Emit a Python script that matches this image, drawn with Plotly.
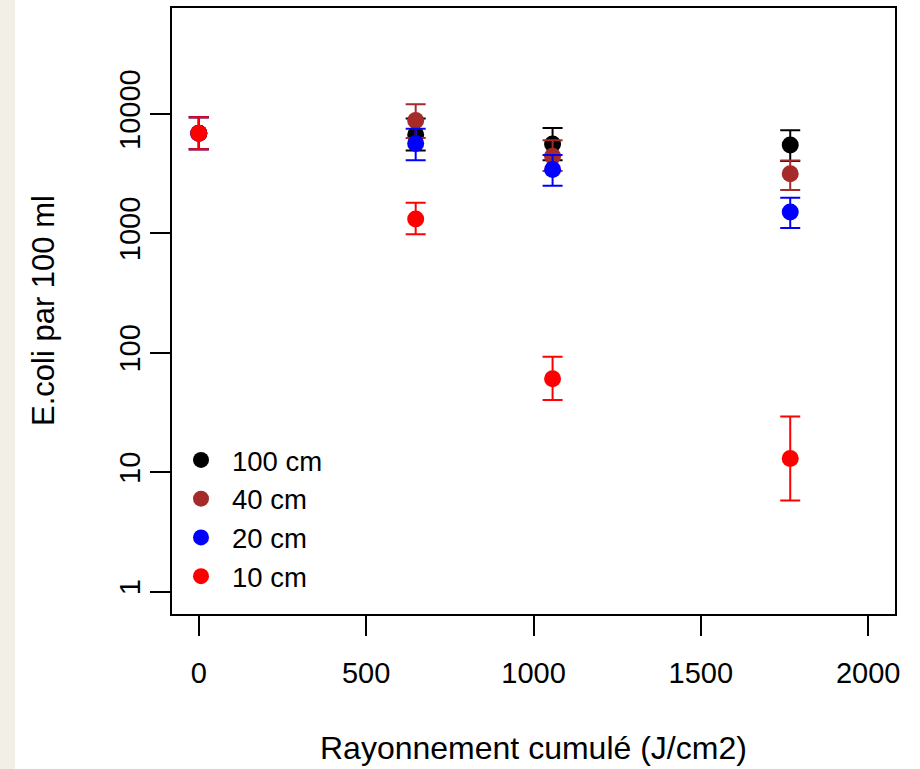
import plotly.graph_objects as go

# Cumulative radiation (J/cm2)
x_vals = [0, 648, 1057, 1767]

series_names = ["100 cm", "40 cm", "20 cm", "10 cm"]
series_colors = ["#000000", "#A52A2A", "#0000FF", "#FF0000"]

# E.coli per 100 ml: mean, upper and lower error bounds
mean_100 = [6900, 6700, 5600, 5480]
upper_100 = [9380, 9150, 7640, 7310]
lower_100 = [5070, 4950, 4100, 4030]

mean_40 = [6900, 8810, 4430, 3155]
upper_40 = [9380, 12050, 6030, 4080]
lower_40 = [5070, 6300, 3320, 2306]

mean_20 = [6900, 5660, 3430, 1510]
upper_20 = [9380, 7500, 4520, 1990]
lower_20 = [5070, 4100, 2500, 1110]

mean_10 = [6900, 1320, 60.5, 13.0]
upper_10 = [9380, 1806, 92.4, 29.3]
lower_10 = [5070, 984, 40.1, 5.8]

y_tick_vals = [1, 10, 100, 1000, 10000]
y_tick_text = ["1", "10", "100", "1000", "10000"]
x_tick_vals = [0, 500, 1000, 1500, 2000]

means = [mean_100, mean_40, mean_20, mean_10]
uppers = [upper_100, upper_40, upper_20, upper_10]
lowers = [lower_100, lower_40, lower_20, lower_10]

FONT = "Liberation Sans, Arial, Helvetica, sans-serif"

fig = go.Figure()
for name, col, m, u, l in zip(series_names, series_colors, means, uppers, lowers):
    fig.add_trace(go.Scatter(
        x=x_vals, y=m, mode="markers", name=name,
        marker=dict(color=col, size=17, line=dict(width=0)),
        error_y=dict(type="data", symmetric=False,
                     array=[a - b for a, b in zip(u, m)],
                     arrayminus=[b - c for b, c in zip(m, l)],
                     color=col, thickness=2, width=10),
    ))

L, R, T, B = 172, 25, 6, 155
W, H = 920, 769
pw = W - L - R
ph = H - T - B

fig.update_layout(
    width=W, height=H,
    margin=dict(l=L, r=R, t=T, b=B, pad=0),
    paper_bgcolor="white", plot_bgcolor="white",
    font=dict(family=FONT, size=29, color="black"),
    showlegend=True,
    legend=dict(
        x=(170 - L) / pw, y=1 - (435 - T) / ph,
        xanchor="left", yanchor="top",
        bgcolor="rgba(0,0,0,0)", borderwidth=0,
        font=dict(family=FONT, size=27.5, color="black"),
        itemwidth=52, tracegroupgap=0,
    ),
    xaxis=dict(
        range=[-80, 2080], tickvals=x_tick_vals,
        showgrid=False, zeroline=False,
        showline=True, mirror=True, linecolor="black", linewidth=2,
        ticks="outside", ticklen=20, tickwidth=1.5, tickcolor="black",
        tickfont=dict(family=FONT, size=29), ticklabelstandoff=12,
    ),
    yaxis=dict(
        type="log", range=[-0.188, 4.887],
        tickvals=y_tick_vals, ticktext=y_tick_text, tickangle=-90,
        showgrid=False, zeroline=False,
        showline=True, mirror=True, linecolor="black", linewidth=2,
        ticks="outside", ticklen=20, tickwidth=1.5, tickcolor="black",
        tickfont=dict(family=FONT, size=29), ticklabelstandoff=-2,
    ),
    shapes=[dict(type="rect", xref="paper", yref="paper",
                 x0=(0 - L) / pw, x1=(15 - L) / pw,
                 y0=-(H - T - ph) / ph - 0.01, y1=1 + T / ph + 0.01,
                 fillcolor="#F1EFE6", line=dict(width=0), layer="below")],
    annotations=[
        dict(text="Rayonnement cumulé (J/cm2)", xref="paper", yref="paper",
             x=(533 - L) / pw, y=1 - (748 - T) / ph, showarrow=False,
             xanchor="center", yanchor="middle",
             font=dict(family=FONT, size=32, color="black")),
        dict(text="E.coli par 100 ml", xref="paper", yref="paper",
             x=(43 - L) / pw, y=0.5, showarrow=False, textangle=-90,
             xanchor="center", yanchor="middle",
             font=dict(family=FONT, size=31, color="black")),
    ],
)

fig.write_html("out.html")
